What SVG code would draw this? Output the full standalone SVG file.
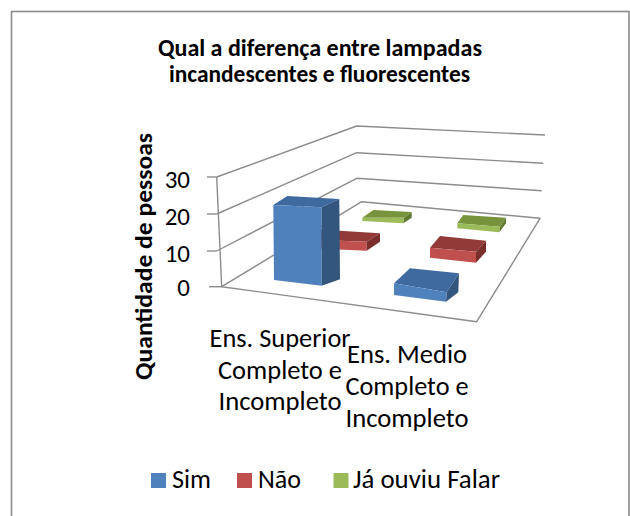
<svg xmlns="http://www.w3.org/2000/svg" width="630" height="516" viewBox="0 0 630 516">
<style>
text{font-family:Carlito,Calibri,"Liberation Sans",sans-serif;fill:#000}
.t{font-size:24px;font-weight:bold;text-anchor:middle}
.yl{font-size:25px;font-weight:bold;text-anchor:middle}
.tick{font-size:25px;text-anchor:end}
.cat{font-size:26px;text-anchor:middle}
.leg{font-size:26px}
.grid{fill:none;stroke:#8c8c8c;stroke-width:1.4;stroke-linejoin:round}
.bt{fill:#3f6a9f}.bf{fill:#4f81bd}.bs{fill:#33567f}
.rt{fill:#923a38}.rf{fill:#c0504d}.rs{fill:#7b2f2d}
.gt{fill:#77933c}.gf{fill:#9bbb59}.gs{fill:#607a2f}
</style>
<rect x="0" y="0" width="630" height="516" fill="#fff"/>
<rect x="11.5" y="11.5" width="617.5" height="530" fill="none" stroke="#8c8c8c" stroke-width="1.6"/>
<g id="title">
<text class="t" x="320" y="56" textLength="324" lengthAdjust="spacingAndGlyphs">Qual a diferença entre lampadas</text>
<text class="t" x="319.5" y="82" textLength="301" lengthAdjust="spacingAndGlyphs">incandescentes e fluorescentes</text>
</g>
<g id="walls">
<polyline class="grid" points="216.7,177 356.7,126 545,135"/>
<polyline class="grid" points="216.7,214 356.7,152.7 543.3,163.3"/>
<polyline class="grid" points="216.7,251 356.7,178.3 541.7,190.7"/>
<polygon class="grid" points="221.7,286.7 361.7,201.7 540,218.3 476.7,321.7"/>
<line class="grid" x1="216.7" y1="177" x2="221.7" y2="286.7"/>
<line class="grid" x1="207" y1="177" x2="216.7" y2="177"/>
<line class="grid" x1="207" y1="214" x2="216.7" y2="214"/>
<line class="grid" x1="207" y1="251" x2="216.7" y2="251"/>
<line class="grid" x1="209" y1="286.7" x2="221.7" y2="286.7"/>
</g>
<g id="axis-labels">
<text class="tick" x="190" y="188">30</text>
<text class="tick" x="190" y="225">20</text>
<text class="tick" x="190" y="262">10</text>
<text class="tick" x="190" y="296">0</text>
<text class="yl" transform="translate(152,256.5) rotate(-90)" textLength="247" lengthAdjust="spacingAndGlyphs">Quantidade de pessoas</text>
</g>
<g id="bar-green-superior">
<polygon class="gt" points="362.3,217.7 373.3,210 411.7,212 404,217.7"/>
<polygon class="gf" points="362.3,217.7 404,217.7 403.3,223.3 362.3,221"/>
<polygon class="gs" points="404,217.7 411.7,212 411.7,217.7 403.3,223.3"/>
</g>
<g id="bar-green-medio">
<polygon class="gt" points="457.3,223.3 463.3,215 506,217.7 500,226.7"/>
<polygon class="gf" points="457.3,223.3 500,226.7 499.3,232.3 457.3,228.3"/>
<polygon class="gs" points="500,226.7 506,217.7 506,223.3 499.3,232.3"/>
</g>
<g id="bar-red-superior">
<polygon class="rt" points="305,239.5 315,229.3 380,233.3 366.7,241.7"/>
<polygon class="rf" points="305,239.5 366.7,241.7 366.7,250.7 305,248"/>
<polygon class="rs" points="366.7,241.7 380,233.3 380,241.7 366.7,250.7"/>
</g>
<g id="bar-red-medio">
<polygon class="rt" points="430,247.7 440,236 486,240.7 476,251.7"/>
<polygon class="rf" points="430,247.7 476,251.7 476,262.7 430,257.7"/>
<polygon class="rs" points="476,251.7 486,240.7 486,251.7 476,262.7"/>
</g>
<g id="bar-blue-superior">
<polygon class="bt" points="273.3,205 287.3,196 339.3,199 321.7,207.3"/>
<polygon class="bf" points="273.3,205 321.7,207.3 321.7,285.7 274,280"/>
<polygon class="bs" points="321.7,207.3 339.3,199 340,279.3 321.7,285.7"/>
</g>
<g id="bar-blue-medio">
<polygon class="bt" points="394,283.3 410,268.3 459,273.3 446.7,292.3"/>
<polygon class="bf" points="394,283.3 446.7,292.3 446,301.7 394,295"/>
<polygon class="bs" points="446.7,292.3 459,273.3 458.3,292.3 446,301.7"/>
</g>
<g id="categories">
<text class="cat" x="280" y="347" textLength="141" lengthAdjust="spacingAndGlyphs">Ens. Superior</text>
<text class="cat" x="280" y="379" textLength="124" lengthAdjust="spacingAndGlyphs">Completo e</text>
<text class="cat" x="280" y="410" textLength="123" lengthAdjust="spacingAndGlyphs">Incompleto</text>
<text class="cat" x="407" y="363" textLength="120" lengthAdjust="spacingAndGlyphs">Ens. Medio</text>
<text class="cat" x="407" y="395" textLength="123" lengthAdjust="spacingAndGlyphs">Completo e</text>
<text class="cat" x="407" y="427" textLength="123" lengthAdjust="spacingAndGlyphs">Incompleto</text>
</g>
<g id="legend">
<rect x="151" y="473" width="15" height="15" fill="#4f81bd"/>
<text class="leg" x="172" y="488" textLength="39" lengthAdjust="spacingAndGlyphs">Sim</text>
<rect x="237" y="473" width="15" height="15" fill="#c0504d"/>
<text class="leg" x="258" y="488" textLength="43" lengthAdjust="spacingAndGlyphs">Não</text>
<rect x="333.5" y="473" width="15" height="15" fill="#9bbb59"/>
<text class="leg" x="353" y="488" textLength="147" lengthAdjust="spacingAndGlyphs">Já ouviu Falar</text>
</g>
</svg>
